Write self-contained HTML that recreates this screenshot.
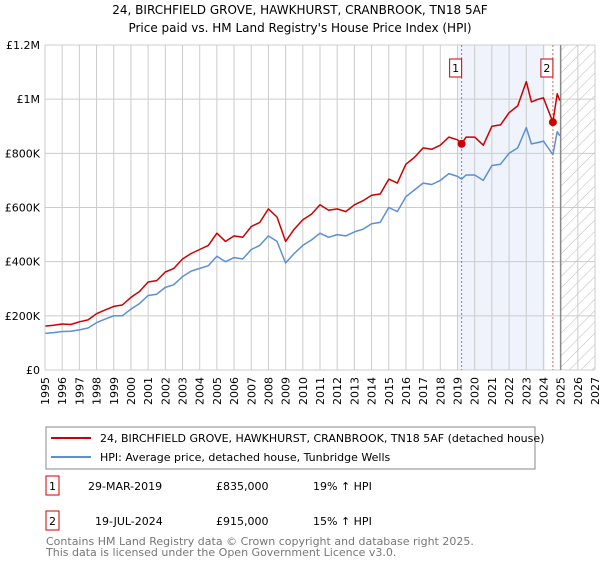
<!DOCTYPE html>
<html><head><meta charset="utf-8"><style>
body{margin:0;background:#fff;font-family:"Liberation Sans","DejaVu Sans",sans-serif;}
svg text{font-family:"DejaVu Sans","Liberation Sans",sans-serif;}
</style></head><body>
<svg id="c" width="600" height="560" xmlns="http://www.w3.org/2000/svg">
<defs><pattern id="hatch" width="8" height="8" patternUnits="userSpaceOnUse" patternTransform="rotate(45)"><line x1="0" y1="0" x2="0" y2="8" stroke="#bbb" stroke-width="1"/></pattern></defs>
<text x="300" y="14" text-anchor="middle" font-size="12" fill="#000">24, BIRCHFIELD GROVE, HAWKHURST, CRANBROOK, TN18 5AF</text>
<text x="300" y="32" text-anchor="middle" font-size="12" fill="#000">Price paid vs. HM Land Registry's House Price Index (HPI)</text>
<g id="plot"></g>
<rect x="46" y="427" width="489" height="42" fill="#fff" stroke="#888"/>
<line x1="51" y1="438" x2="91" y2="438" stroke="#cc0000" stroke-width="2"/>
<text x="100" y="442" font-size="11">24, BIRCHFIELD GROVE, HAWKHURST, CRANBROOK, TN18 5AF (detached house)</text>
<line x1="51" y1="457" x2="91" y2="457" stroke="#5b8fd6" stroke-width="2"/>
<text x="100" y="461" font-size="11">HPI: Average price, detached house, Tunbridge Wells</text>
<g>
<rect x="46" y="476" width="13" height="19" fill="none" stroke="#cc0000"/>
<text x="52.5" y="490" font-size="11" text-anchor="middle">1</text>
<text x="88" y="490" font-size="11">29-MAR-2019</text>
<text x="216" y="490" font-size="11">£835,000</text>
<text x="313" y="490" font-size="11">19% ↑ HPI</text></g>
<g>
<rect x="46" y="511" width="13" height="19" fill="none" stroke="#cc0000"/>
<text x="52.5" y="525" font-size="11" text-anchor="middle">2</text>
<text x="95" y="525" font-size="11">19-JUL-2024</text>
<text x="216" y="525" font-size="11">£915,000</text>
<text x="313" y="525" font-size="11">15% ↑ HPI</text></g>
<text x="46" y="545" font-size="11" fill="#777">Contains HM Land Registry data © Crown copyright and database right 2025.</text>
<text x="46" y="556" font-size="11" fill="#777">This data is licensed under the Open Government Licence v3.0.</text>
</svg>
<script>
const years=[1995,1995.5,1996,1996.5,1997,1997.5,1998,1998.5,1999,1999.5,2000,2000.5,2001,2001.5,2002,2002.5,2003,2003.5,2004,2004.5,2005,2005.5,2006,2006.5,2007,2007.5,2008,2008.5,2009,2009.5,2010,2010.5,2011,2011.5,2012,2012.5,2013,2013.5,2014,2014.5,2015,2015.5,2016,2016.5,2017,2017.5,2018,2018.5,2019,2019.24,2019.5,2020,2020.5,2021,2021.5,2022,2022.5,2023,2023.3,2023.7,2024,2024.55,2024.8,2024.95];
const hpiValues=[135,138,142,143,148,155,175,188,200,200,225,245,275,280,305,315,345,365,375,385,420,400,415,410,445,460,495,475,395,430,460,480,505,490,500,495,510,520,540,545,600,585,640,665,690,685,700,725,715,705,720,720,700,755,760,800,820,895,835,840,845,795,880,865];
const propValues=[162,165,170,168,178,185,208,222,235,240,268,290,325,330,362,375,410,430,445,460,505,475,495,490,530,545,595,565,475,520,555,575,610,590,595,585,610,625,645,650,705,690,760,785,820,815,830,860,850,835,860,860,830,900,905,950,975,1065,990,1000,1005,915,1020,995];
const saleDates=[2019.24,2024.55];
const salePrices=[835,915];
const saleLabels=["1","2"];
const yTicks=[0,200,400,600,800,1000,1200];
const yTickLabels=["£0","£200K","£400K","£600K","£800K","£1M","£1.2M"];
const xStart=1995,xEnd=2027;
const L=45,R=595,T=45,B=370;
const X=v=>L+(v-xStart)/(xEnd-xStart)*(R-L);
const Y=v=>B-v/1200*(B-T);
const g=document.getElementById('plot');
const NS='http://www.w3.org/2000/svg';
function mk(t,a){const e=document.createElementNS(NS,t);for(const k in a)e.setAttribute(k,a[k]);g.appendChild(e);return e;}
let e;
e=mk('rect',{x:X(2019),y:T,width:X(2024.1)-X(2019),height:B-T,fill:'#eef3fc'});


e=mk('rect',{x:X(2025),y:T,width:R-X(2025),height:B-T,fill:'url(#hatch)'});


for(let yr=xStart;yr<=xEnd;yr++){
 e=mk('line',{x1:X(yr),x2:X(yr),y1:T,y2:B,stroke:'#ccc','stroke-width':1});
 
 
 e=mk('text',{x:0,y:0,'font-size':11,'text-anchor':'end',transform:`translate(${X(yr)+4},${B+7}) rotate(-90)`});
 e.textContent=yr;
 
 
}
yTicks.forEach((v,i)=>{
 e=mk('line',{x1:L,x2:R,y1:Y(v),y2:Y(v),stroke:'#ccc','stroke-width':1});
 
 
 e=mk('text',{x:L-5,y:Y(v)+4,'font-size':11,'text-anchor':'end'});
 e.textContent=yTickLabels[i];
 
 
});
e=mk('line',{x1:X(2025),x2:X(2025),y1:T,y2:B,stroke:'#888','stroke-width':1.5});


saleDates.forEach((d,i)=>{
 e=mk('line',{x1:X(d),x2:X(d),y1:T,y2:B,stroke:'#e06060','stroke-width':1,'stroke-dasharray':'2,2'});
 
 
});
function line(vals,col,name){
 const d=years.map((y,i)=>(i?'L':'M')+X(y).toFixed(1)+','+Y(vals[i]).toFixed(1)).join('');
 const p=mk('path',{d:d,fill:'none',stroke:col,'stroke-width':1.5,'stroke-linejoin':'round'});
 
 
}
line(hpiValues,'#5b8fd6','hpi-line');
line(propValues,'#cc0000','property-price-line');
saleDates.forEach((d,i)=>{
 e=mk('circle',{cx:X(d),cy:Y(salePrices[i]),r:4,fill:'#cc0000'});
 
 
 e=mk('rect',{x:X(d)-12,y:59,width:12,height:18,fill:'#fff',stroke:'#cc0000'});
 
 
 e=mk('text',{x:X(d)-6,y:72,'font-size':11,'text-anchor':'middle'});
 e.textContent=saleLabels[i];
 
 
});
e=mk('line',{x1:L,x2:L,y1:T,y2:B,stroke:'#ccc'});


</script>
</body></html>
